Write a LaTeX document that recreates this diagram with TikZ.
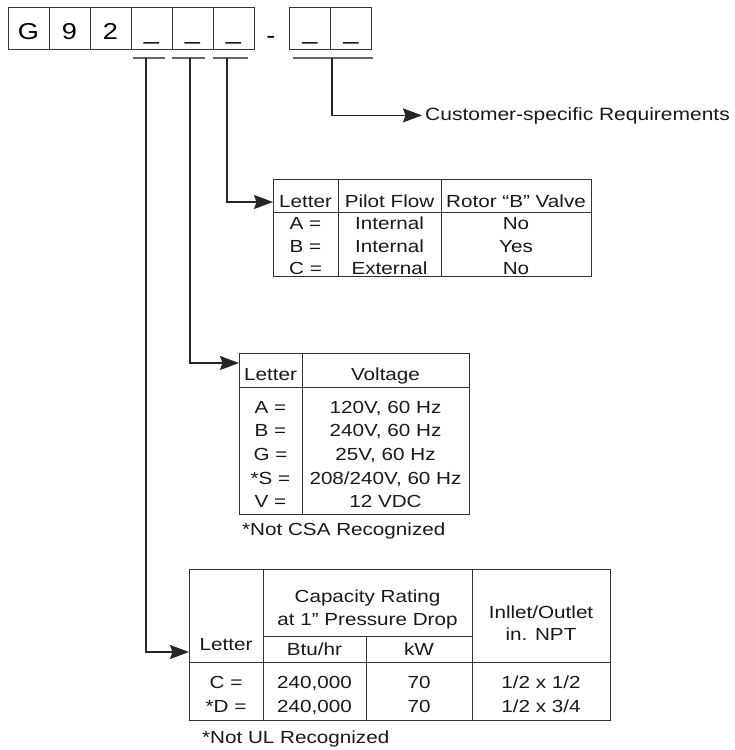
\documentclass[tikz,border=0pt]{standalone}
\usepackage{fontspec}
\setmainfont{Liberation Sans}[FakeStretch=1.18]
\usetikzlibrary{arrows.meta, positioning}

\newcommand\boxfont{\fontsize{23}{23}\selectfont}
\newcommand\tabfont{\fontsize{17.5}{21}\selectfont}

\begin{document}
\begin{tikzpicture}[
  x=1pt, y=-1pt,
  digit/.style={draw=black!80, line width=1pt, rectangle, minimum width=41pt, minimum height=42pt, inner sep=0pt, outer sep=0pt, text height=22pt, text depth=0pt, font=\boxfont},
  tab/.style={draw=black!80, line width=1pt, rectangle, anchor=north west, inner sep=0pt, outer sep=0pt},
  rule/.style={black!80, line width=1pt},
  bar/.style={black!60, line width=1.3pt},
  feed/.style={-{Stealth[length=19pt, width=14pt, inset=2.5pt]}, black!85, line width=1.5pt},
  cell/.style={anchor=base, inner sep=0pt, font=\tabfont, text=black!90},
  note/.style={anchor=base west, inner sep=0pt, font=\tabfont, text=black!90}
]
\useasboundingbox (0,0) rectangle (735,750);

% Model number boxes
\node[digit] (G) at (28.5,28) {G};
\node[digit, right=0pt of G] (nine) {9};
\node[digit, right=0pt of nine] (two) {2};
\node[digit, right=0pt of two] (capBox) {\_};
\node[digit, right=0pt of capBox] (voltBox) {\_};
\node[digit, right=0pt of voltBox] (pilotBox) {\_};
\node[font=\boxfont, inner sep=0pt] (dash) at (271,40) {-};
\node[digit] (optA) at (310,28) {\_};
\node[digit, right=0pt of optA] (optB) {\_};

% Bars under the open positions
\draw[bar] (133,58) -- (165,58);
\draw[bar] (172,58) -- (205,58);
\draw[bar] (213,58) -- (248,58);
\draw[bar] (293,58) -- (373,58);
\coordinate (capTap) at (146,58);
\coordinate (voltTap) at (190,58);
\coordinate (pilotTap) at (227,58);
\coordinate (optTap) at (332,58);

% Customer-specific
\node[note, font=\fontsize{17.8}{21}\selectfont] (cust) at (425,120) {Customer-specific Requirements};

% Table 1: pilot flow
\node[tab, minimum width=318pt, minimum height=97pt] (pilot) at (273,179) {};
\draw[rule] (273,212) -- (591,212);
\draw[rule] (338,179) -- (338,276);
\draw[rule] (441,179) -- (441,276);
\node[cell] (pilotHdrA) at (305.5,207) {Letter};
\node[cell] (pilotHdrB) at (389.5,207) {Pilot Flow};
\node[cell] (pilotHdrC) at (516,207) {Rotor “B” Valve};
\node[cell] (pilotA) at (305.5,229) {A =};
\node[cell] (pilotAflow) at (389.5,229) {Internal};
\node[cell] (pilotAval) at (516,229) {No};
\node[cell] (pilotB) at (305.5,252) {B =};
\node[cell] (pilotBflow) at (389.5,252) {Internal};
\node[cell] (pilotBval) at (516,252) {Yes};
\node[cell] (pilotC) at (305.5,274) {C =};
\node[cell] (pilotCflow) at (389.5,274) {External};
\node[cell] (pilotCval) at (516,274) {No};

% Table 2: voltage
\node[tab, minimum width=230pt, minimum height=161pt] (volt) at (239,353) {};
\draw[rule] (239,387) -- (469,387);
\draw[rule] (302,353) -- (302,514);
\node[cell] (voltHdrA) at (270.5,380) {Letter};
\node[cell] (voltHdrB) at (385.5,380) {Voltage};
\node[cell] (voltA) at (270.5,413) {A =};
\node[cell] (voltAv) at (385.5,413) {120V, 60 Hz};
\node[cell] (voltB) at (270.5,436) {B =};
\node[cell] (voltBv) at (385.5,436) {240V, 60 Hz};
\node[cell] (voltG) at (270.5,460) {G =};
\node[cell] (voltGv) at (385.5,460) {25V, 60 Hz};
\node[cell] (voltS) at (270.5,484) {*S =};
\node[cell] (voltSv) at (385.5,484) {208/240V, 60 Hz};
\node[cell] (voltV) at (270.5,507) {V =};
\node[cell] (voltVv) at (385.5,507) {12 VDC};
\node[note] (voltNote) at (242,535) {*Not CSA Recognized};

% Table 3: capacity
\node[tab, minimum width=421pt, minimum height=151pt] (cap) at (189,569) {};
\draw[rule] (263,569) -- (263,720);
\draw[rule] (472,569) -- (472,720);
\draw[rule] (263,636) -- (472,636);
\draw[rule] (189,662) -- (610,662);
\draw[rule] (366,636) -- (366,720);
\node[cell] (capHdr1) at (367.5,602) {Capacity Rating};
\node[cell] (capHdr2) at (367.5,625) {at 1” Pressure Drop};
\node[cell] (capHdrA) at (226,650) {Letter};
\node[cell] (capBtu) at (314.5,655) {Btu/hr};
\node[cell] (capKw) at (419,655) {kW};
\node[cell] (capPipe1) at (541,618) {Inllet/Outlet};
\node[cell] (capPipe2) at (541,640) {in. NPT};
\node[cell] (capC) at (226,688) {C =};
\node[cell] (capCbtu) at (314.5,688) {240,000};
\node[cell] (capCkw) at (419,688) {70};
\node[cell] (capCpipe) at (541,688) {1/2 x 1/2};
\node[cell] (capD) at (226,712) {*D =};
\node[cell] (capDbtu) at (314.5,712) {240,000};
\node[cell] (capDkw) at (419,712) {70};
\node[cell] (capDpipe) at (541,712) {1/2 x 3/4};
\node[note] (capNote) at (202,743) {*Not UL Recognized};

% Leaders
\draw[feed, shorten >=3pt] (optTap) |- (cust.west);
\draw[feed] (pilotTap) |- ([yshift=-23pt]pilot.north west);
\draw[feed] (voltTap) |- ([yshift=-10pt]volt.north west);
\draw[feed] (capTap) |- ([yshift=-83pt]cap.north west);

\end{tikzpicture}
\end{document}
